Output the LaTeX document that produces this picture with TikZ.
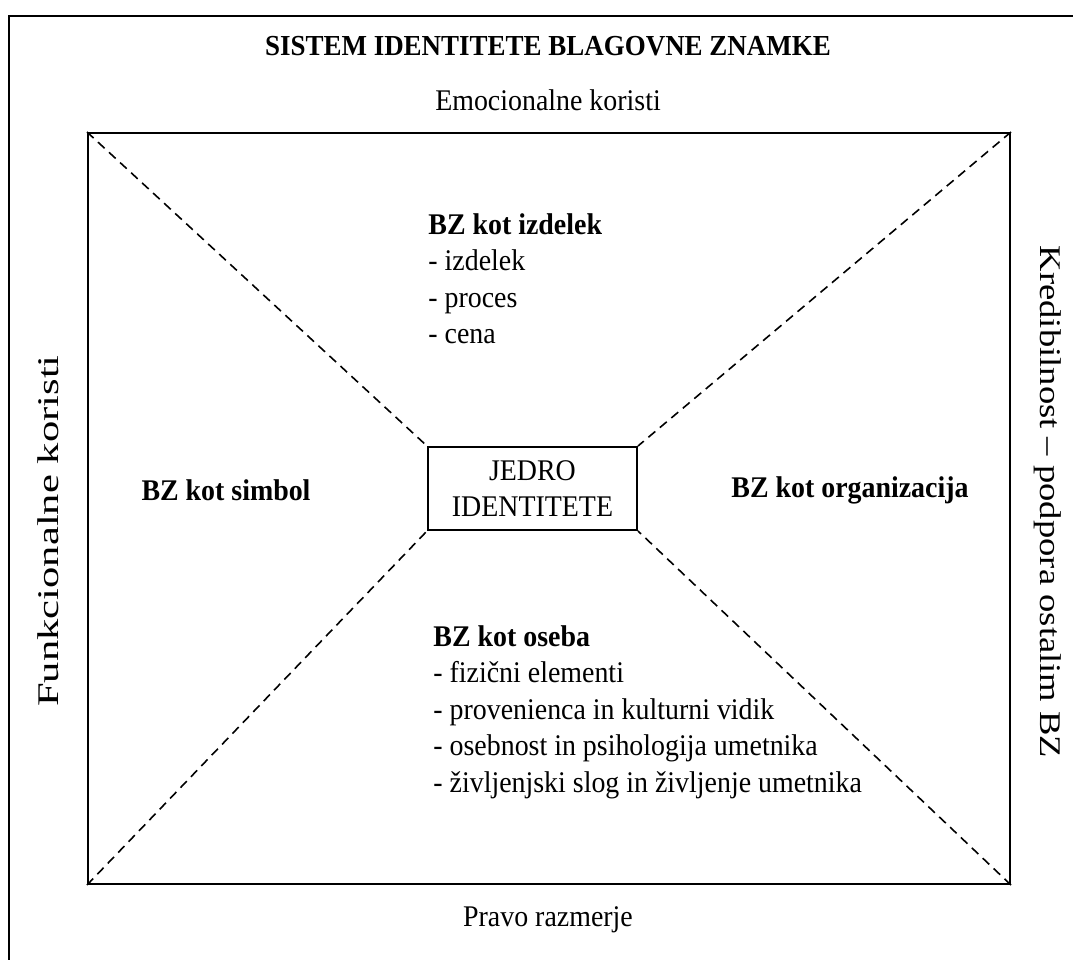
\documentclass[tikz,border=0pt]{standalone}
\usepackage{fontspec}
\setmainfont[FakeStretch=0.93]{Liberation Serif}
\newfontfamily\leftsidefont[FakeStretch=1.42]{Liberation Serif}
\newfontfamily\rightsidefont[FakeStretch=1.22]{Liberation Serif}
\begin{document}
\begin{tikzpicture}[x=0.5pt,y=-0.5pt,
  every node/.style={font=\fontsize{15pt}{18.25pt}\selectfont, inner sep=0pt},
  frame/.style={draw, line width=1pt},
  diag/.style={line width=0.8pt, dash pattern=on 4.5pt off 3pt},
  heading/.style={font=\fontsize{15pt}{18.25pt}\selectfont\bfseries},
  listbox/.style={align=left, anchor=north west, font=\fontsize{15pt}{18.25pt}\selectfont}]
\useasboundingbox (0,0) rectangle (1073,960);
\clip (0,0) rectangle (1073,960);
\fill[white] (0,0) rectangle (1073,960);
% outer frame (runs past right and bottom edges)
\draw[line width=1pt] (9,1000) -- (9,16) -- (1100,16);
% inner frame
\node[frame, minimum width=461pt, minimum height=375.5pt] (inner) at (549,508.5) {};
% core
\node[frame, minimum width=104.5pt, minimum height=41.5pt, align=center] (core) at (532.5,488.5) {JEDRO\\IDENTITETE};
% diagonals
\draw[diag] (inner.north west) -- (core.north west);
\draw[diag] (inner.north east) -- (core.north east);
\draw[diag] (inner.south west) -- (core.south west);
\draw[diag] (inner.south east) -- (core.south east);
% texts
\node[font=\fontsize{14.5pt}{18pt}\selectfont\bfseries] (title) at (548,46) {SISTEM IDENTITETE BLAGOVNE ZNAMKE};
\node (emo) at (548,100) {Emocionalne koristi};
\node (pravo) at (548,920) {Pravo razmerje};
\node[rotate=90, font=\fontsize{15pt}{18pt}\leftsidefont] (funk) at (48,531) {Funkcionalne koristi};
\node[rotate=-90, font=\fontsize{15pt}{18pt}\rightsidefont] (kred) at (1048,502) {Kredibilnost – podpora ostalim BZ};
\node[heading] (simbol) at (226,490) {BZ kot simbol};
\node[heading] (org) at (850,490) {BZ kot organizacija};
\node[listbox] (izdelek) at (428,213) {\textbf{BZ kot izdelek}\\- izdelek\\- proces\\- cena};
\node[listbox] (oseba) at (433,625) {\textbf{BZ kot oseba}\\- fizični elementi\\- provenienca in kulturni vidik\\- osebnost in psihologija umetnika\\- življenjski slog in življenje umetnika};
\end{tikzpicture}
\end{document}
